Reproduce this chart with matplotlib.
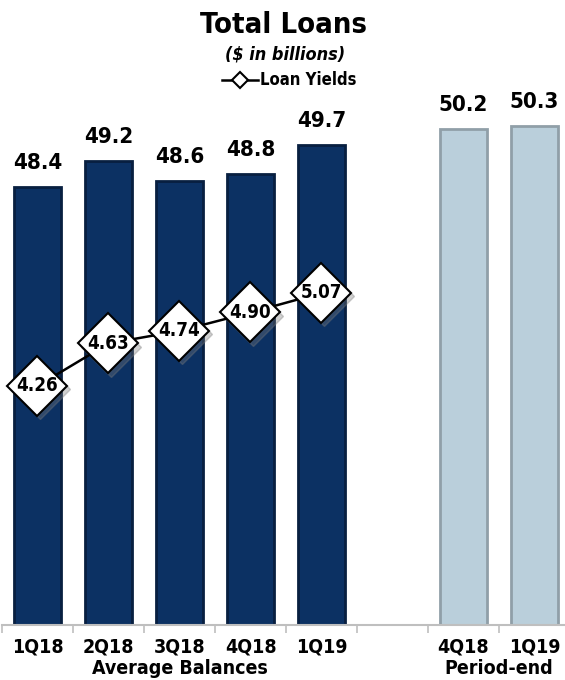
import matplotlib.pyplot as plt
import numpy as np

# font settings
plt.rcParams["font.family"] = ["DejaVu Sans"]
plt.rcParams["font.stretch"] = "condensed"

# data
avg_quarters = ["1Q18", "2Q18", "3Q18", "4Q18", "1Q19"]
avg_balances = [48.4, 49.2, 48.6, 48.8, 49.7]
loan_yields = [4.26, 4.63, 4.74, 4.90, 5.07]
end_quarters = ["4Q18", "1Q19"]
end_balances = [50.2, 50.3]

avg_pos = np.arange(len(avg_quarters))
end_pos = np.arange(len(end_quarters)) + len(avg_quarters) + 1
n_slots = len(avg_quarters) + 1 + len(end_quarters)

W, H = 565, 680
fig = plt.figure(figsize=(W / 100, H / 100), dpi=100)
ax = fig.add_axes([2 / W, (H - 625) / H, 568 / W, 535 / H])
ax2 = ax.twinx()

# bars
ax.bar(avg_pos, avg_balances, width=0.67, color="#0c3163", edgecolor="#081f40",
       linewidth=2, zorder=2)
ax.bar(end_pos, end_balances, width=0.67, color="#bacfdb", edgecolor="#909fa8",
       linewidth=2, zorder=2)
ax.set_ylim(34.71, 51.43)
ax.set_xlim(-0.5, n_slots - 0.5)

for x, v in zip(list(avg_pos) + list(end_pos), avg_balances + end_balances):
    ax.annotate(f"{v:.1f}", (x, v), xytext=(0, 10), textcoords="offset points",
                ha="center", va="bottom", fontsize=16, fontweight="bold")

# yields line
ax2.set_ylim(2.178, 6.838)
ax2.plot(avg_pos + 0.03, np.array(loan_yields) - 0.03, lw=0,
         marker="D", markersize=31, markerfacecolor="#7a7a7a",
         markeredgecolor="#7a7a7a", alpha=0.35, zorder=3)
ax2.plot(avg_pos, loan_yields, color="black", lw=1.8, marker="D", markersize=31,
         markerfacecolor="white", markeredgecolor="black", markeredgewidth=1.5,
         zorder=4)
for x, v in zip(avg_pos, loan_yields):
    ax2.text(x, v, f"{v:.2f}", ha="center", va="center", fontsize=13.5,
             fontweight="bold", zorder=5)
ax2.set_yticks([])

# axes styling
for a in (ax, ax2):
    for s in ["top", "right", "left"]:
        a.spines[s].set_visible(False)
ax2.spines["bottom"].set_visible(False)
ax.spines["bottom"].set_color("#bfbfbf")
ax.spines["bottom"].set_linewidth(1.5)
ax.set_yticks([])
ax.set_xticks(list(avg_pos) + list(end_pos))
ax.set_xticklabels(avg_quarters + end_quarters, fontsize=14, fontweight="bold")
ax.tick_params(axis="x", which="major", length=0, pad=9)
ax.set_xticks(np.arange(n_slots + 1) - 0.5, minor=True)
ax.tick_params(axis="x", which="minor", length=6, color="#bfbfbf", width=1.2)

# group labels
fig.text(179.5 / W, 1 - 669 / H, "Average Balances",
         ha="center", va="center", fontsize=14, fontweight="bold")
fig.text(499 / W, 1 - 669 / H, "Period-end",
         ha="center", va="center", fontsize=14, fontweight="bold")

# title and legend
fig.text(283 / W, 1 - 25 / H, "Total Loans", ha="center", va="center",
         fontsize=21, fontweight="bold")
fig.text(285 / W, 1 - 54 / H, "($ in billions)", ha="center", va="center",
         fontsize=13, fontweight="bold", style="italic")
fig.lines.append(plt.Line2D([222 / W, 258 / W], [1 - 80 / H, 1 - 80 / H],
                            transform=fig.transFigure, color="black", lw=1.8))
fig.lines.append(plt.Line2D([240 / W], [1 - 80 / H], transform=fig.transFigure,
                            color="black", lw=0, marker="D", markersize=8,
                            markerfacecolor="white", markeredgewidth=1.5))
fig.text(260 / W, 1 - 80 / H, "Loan Yields", ha="left", va="center",
         fontsize=12, fontweight="bold")

fig.savefig("out.png", dpi=100)
